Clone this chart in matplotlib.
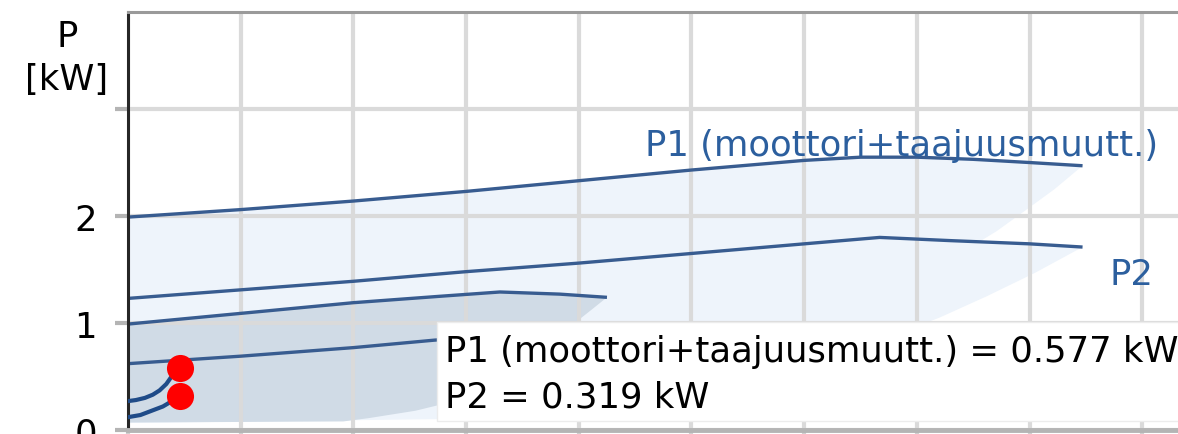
import numpy as np
import matplotlib.pyplot as plt
from matplotlib.patches import Rectangle

### ---------- chart data ---------- ###
# flow in grid units (flow axis labels are cut off), power in kW
p1_max_q = [0, 1, 2, 3, 4, 5, 6, 6.5, 7, 7.5, 8, 8.47]
p1_max = [1.99, 2.06, 2.14, 2.23, 2.33, 2.43, 2.52, 2.55, 2.55, 2.53, 2.50, 2.47]

p2_max_q = [0, 1, 2, 3, 4, 5, 6, 6.67, 7.3, 8, 8.47]
p2_max = [1.23, 1.31, 1.39, 1.48, 1.56, 1.65, 1.74, 1.80, 1.77, 1.74, 1.71]

p1_min_q = [0, 1, 2, 2.77, 3.3, 3.83, 4.25]
p1_min = [0.99, 1.09, 1.19, 1.25, 1.29, 1.27, 1.24]

p2_min_q = [0, 1, 2, 2.72, 3.3, 3.83, 4.25]
p2_min = [0.62, 0.69, 0.77, 0.84, 0.88, 0.87, 0.85]

# curves at the current speed, ending in the duty point
p1_cur_q = [0, 0.07, 0.15, 0.22, 0.28, 0.34, 0.38, 0.43, 0.46]
p1_cur = [0.27, 0.28, 0.30, 0.33, 0.37, 0.43, 0.49, 0.54, 0.577]
p2_cur_q = [0, 0.11, 0.21, 0.31, 0.39, 0.46]
p2_cur = [0.12, 0.14, 0.18, 0.22, 0.27, 0.319]

duty_q = 0.46
duty_p1 = 0.577
duty_p2 = 0.319

# outline of the light (full speed range) area: right hand edges
light_edge_q = [8.47, 8.22, 7.96, 7.71, 7.54, 8.0, 8.47, 8.05, 7.62, 7.20, 6.78,
                5.93, 5.08, 4.24, 3.39, 0]
light_edge_p = [2.47, 2.25, 2.05, 1.86, 1.75, 1.74, 1.71, 1.47, 1.25, 1.05, 0.88,
                0.59, 0.37, 0.21, 0.11, 0.065]

# outline of the darker area below the low curves
dark_edge_q = [4.25, 4.12, 4.00, 3.90, 3.80, 4.25, 4.04, 3.83, 3.61, 3.40, 2.98,
               2.55, 2.13, 1.91, 0]
dark_edge_p = [1.24, 1.13, 1.03, 0.96, 0.88, 0.85, 0.73, 0.62, 0.52, 0.44, 0.29,
               0.18, 0.11, 0.08, 0.07]

ytick_vals = [0, 1, 2, 3]
ytick_labels = ["0", "1", "2", ""]

label_p1 = "P1 (moottori+taajuusmuutt.)"
label_p2 = "P2"
tooltip_lines = [f"P1 (moottori+taajuusmuutt.) = {duty_p1:.3f} kW",
                 f"P2 = {duty_p2:.3f} kW"]
### -------------------------------------------------------- ###

FS = 25.5
curve_col = "#385c90"
text_blue = "#2c5f9e"

fig = plt.figure(figsize=(11.78, 4.35), dpi=100)
# axes runs off the right edge of the picture
ax = fig.add_axes([128 / 1178, 1 - 431 / 435, 1 - 128 / 1178, (431 - 13) / 435])
ax.set_xlim(0, 9.317)
ax.set_ylim(0, 3.907)

# shaded operating areas
ax.fill(p1_max_q + light_edge_q, p1_max + light_edge_p,
        color="#eef4fb", lw=0, zorder=0.2)
ax.fill(p1_min_q + dark_edge_q, p1_min + dark_edge_p,
        color="#d0dbe6", lw=0, zorder=0.3)

# curves
for q, p in [(p1_max_q, p1_max), (p2_max_q, p2_max),
             (p1_min_q, p1_min), (p2_min_q, p2_min)]:
    ax.plot(q, p, color=curve_col, lw=2.4, zorder=2, solid_capstyle="butt")
ax.plot(p1_cur_q, p1_cur, color="#1f4b88", lw=3, zorder=3)
ax.plot(p2_cur_q, p2_cur, color="#1f4b88", lw=3, zorder=3)
ax.plot([duty_q, duty_q], [duty_p1, duty_p2], "o", color="#ff0000",
        ms=19.5, mec="none", zorder=4)

# curve labels
ax.text(4.587, 2.57, label_p1, color=text_blue, fontsize=FS, va="baseline",
        ha="left", zorder=5)
ax.text(8.713, 1.364, label_p2, color=text_blue, fontsize=FS, va="baseline",
        ha="left", zorder=5)

# tooltip box over the plot
box = Rectangle((2.74, 0.085), 7.0, 1.009 - 0.085, facecolor="white",
                edgecolor="#ececec", lw=1, zorder=8, clip_on=False)
ax.add_patch(box)
fig.text(445 / 1178, 1 - 362 / 435, tooltip_lines[0], fontsize=FS, color="black",
         va="baseline", ha="left", zorder=9)
fig.text(445 / 1178, 1 - 408 / 435, tooltip_lines[1], fontsize=FS, color="black",
         va="baseline", ha="left", zorder=9)

# grid, spines, ticks
ax.set_axisbelow(True)
ax.set_xticks(np.arange(0, 10))
ax.set_yticks(ytick_vals)
ax.set_yticklabels(ytick_labels)
ax.grid(True, color="#dadada", lw=3)
ax.tick_params(axis="y", length=9.4, width=3, color="#b4b4b4", pad=13,
               labelsize=FS)
ax.tick_params(axis="x", length=8, width=3, color="#d0d0d0", labelbottom=False)
ax.spines["right"].set_visible(False)
ax.spines["top"].set_color("#9a9a9a")
ax.spines["top"].set_linewidth(2.2)
ax.spines["left"].set_color("#262626")
ax.spines["left"].set_linewidth(2.2)
ax.spines["bottom"].set_color("#b4b4b4")
ax.spines["bottom"].set_linewidth(3.5)

# axis title
fig.text(67 / 1178, 1 - 47 / 435, "P", fontsize=FS, ha="center", va="baseline")
fig.text(67 / 1178, 1 - 90 / 435, "[kW]", fontsize=FS, ha="center", va="baseline")

fig.savefig("out.png", dpi=100)
